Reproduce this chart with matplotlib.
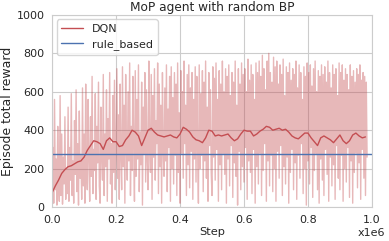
# DQN vs rule_based reward curve
import numpy as np
import matplotlib
matplotlib.use('Agg')
import matplotlib.pyplot as plt
import seaborn as sns

sns.set_style('whitegrid')
plt.rcParams['font.family'] = ['DejaVu Sans']

# raw episode rewards, one every 0.0025e6 steps
raw_reward = [
    40, 310, 20, 560, 90, 250, 10, 420, 130, 30, 580, 60, 380, 15, 260, 120, 470, 40, 200, 70,
    520, 30, 310, 140, 590, 60, 240, 20, 450, 170, 610, 80, 330, 10, 500, 150, 270, 40, 620, 110,
    380, 20, 640, 200, 90, 560, 250, 30, 470, 160, 680, 70, 300, 190, 590, 40, 420, 230, 650, 110,
    20, 520, 270, 140, 690, 60, 380, 210, 610, 30, 460, 250, 700, 120, 330, 20, 580, 180, 660, 90,
    290, 720, 150, 480, 40, 640, 260, 90, 730, 210, 530, 20, 690, 300, 140, 600, 240, 750, 60, 420,
    190, 680, 320, 30, 710, 160, 560, 250, 740, 80, 390, 220, 650, 10, 520, 280, 700, 130, 610, 240,
    90, 760, 300, 180, 690, 40, 580, 260, 720, 140, 450, 330, 750, 70, 640, 210, 530, 20, 700, 290,
    160, 620, 240, 740, 80, 510, 310, 680, 30, 730, 200, 570, 120, 700, 270, 640, 60, 750, 180, 490,
    20, 710, 280, 600, 150, 760, 330, 530, 60, 690, 220, 740, 100, 620, 290, 700, 40, 560, 250, 730,
    130, 680, 310, 20, 740, 200, 590, 270, 710, 80, 650, 240, 760, 150, 520, 30, 700, 320, 610, 180,
    60, 730, 260, 670, 140, 750, 300, 560, 30, 710, 220, 640, 90, 760, 280, 600, 170, 720, 20, 680,
    250, 740, 110, 580, 320, 700, 50, 650, 230, 760, 160, 530, 10, 720, 290, 640, 90, 750, 210, 690,
    130, 720, 310, 600, 40, 770, 240, 660, 180, 740, 70, 690, 300, 560, 20, 750, 210, 700, 120, 760,
    280, 680, 60, 790, 190, 720, 330, 610, 30, 760, 240, 800, 110, 700, 270, 650, 80, 780, 200, 730,
    30, 760, 290, 640, 150, 740, 320, 690, 60, 770, 210, 580, 120, 730, 260, 700, 20, 750, 180, 660,
    300, 720, 90, 690, 230, 760, 40, 620, 270, 740, 150, 700, 330, 560, 70, 730, 200, 680, 10, 750,
    240, 700, 120, 740, 310, 630, 50, 720, 190, 760, 280, 600, 90, 710, 20, 680, 250, 740, 140, 690,
    60, 730, 300, 650, 170, 760, 30, 700, 260, 620, 110, 740, 220, 690, 40, 720, 320, 580, 150, 750,
    90, 700, 270, 740, 30, 660, 200, 720, 130, 690, 310, 610, 50, 740, 240, 680, 20, 710, 180, 650,
    280, 720, 100, 690, 230, 740, 40, 660, 300, 700, 150, 680, 60, 650, 260,
]
raw_step = [i * 0.0025e6 for i in range(len(raw_reward))]

# smoothed reward, one every 0.01e6 steps
mean_reward = [
    75, 110, 140, 175, 195, 210, 215, 225, 235, 240,
    260, 295, 320, 345, 340, 330, 300, 345, 360, 340,
    340, 315, 320, 350, 370, 400, 390, 370, 320, 360,
    400, 410, 390, 375, 370, 365, 370, 375, 365, 360,
    380, 415, 405, 390, 365, 350, 345, 335, 360, 400,
    395, 370, 375, 370, 375, 380, 360, 345, 355, 380,
    400, 395, 395, 370, 380, 395, 405, 420, 415, 400,
    405, 410, 400, 405, 390, 370, 360, 355, 370, 385,
    385, 360, 340, 320, 360, 370, 360, 350, 335, 355,
    375, 345, 330, 345, 375, 385, 370, 360, 365,
]
mean_step = [i * 0.01e6 for i in range(len(mean_reward))]

rule_based = 275

fig = plt.figure(figsize=(3.89, 2.41), dpi=100)
ax = fig.add_axes([0.134, 0.141, 0.822, 0.797])

ax.plot(raw_step, raw_reward, color='#c44e52', alpha=0.4, lw=1)
ax.plot(mean_step, mean_reward, color='#c44e52', lw=1, label='DQN')
ax.axhline(rule_based, color='#4c72b0', lw=1, label='rule_based')

ax.set_xlim(0, 1e6)
ax.set_ylim(0, 1000)
ax.set_xticks([0, 0.2e6, 0.4e6, 0.6e6, 0.8e6, 1e6])
ax.set_xticklabels(['0.0', '0.2', '0.4', '0.6', '0.8', '1.0'])
ax.set_yticks([0, 200, 400, 600, 800, 1000])
ax.tick_params(labelsize=8, pad=2, colors='#262626')
ax.text(1.0, -0.11, 'x1e6', transform=ax.transAxes, ha='center', va='top',
        fontsize=8, color='#262626')

ax.set_title('MoP agent with random BP', fontsize=8.7, color='#262626', pad=3)
ax.set_xlabel('Step', fontsize=8.2, color='#262626', labelpad=2)
ax.set_ylabel('Episode total reward', fontsize=9, color='#262626', labelpad=2)
leg = ax.legend(loc='upper left', fontsize=8, frameon=True,
                borderaxespad=0.4, handlelength=2)

plt.savefig('out.png', dpi=100)
